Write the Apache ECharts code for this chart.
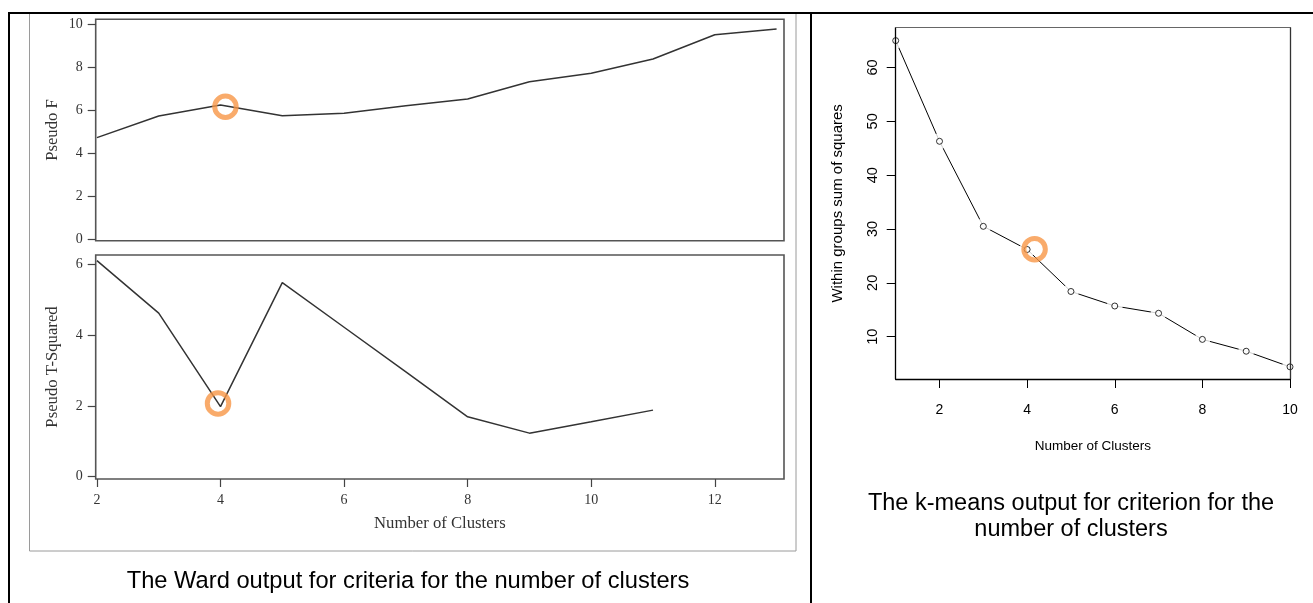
<!DOCTYPE html>
<html>
<head>
<meta charset="utf-8">
<script src="https://cdn.jsdelivr.net/npm/echarts@6/dist/echarts.min.js"></script>
<style>
html,body{margin:0;padding:0;background:#fff;}
#chart{width:1313px;height:603px;}
</style>
</head>
<body>
<div id="chart"></div>
<script>
// ---- Ward (left) data ----
const wardClusters = [2, 3, 4, 5, 6, 7, 8, 9, 10, 11, 12, 13];
const pseudoF = [4.73, 5.74, 6.25, 5.75, 5.87, 6.22, 6.53, 7.34, 7.73, 8.40, 9.53, 9.80];
const t2Clusters = [2, 3, 4, 5, 6, 7, 8, 9, 10, 11];
const pseudoT2 = [6.10, 4.62, 1.98, 5.48, 4.22, 2.96, 1.69, 1.23, 1.55, 1.88];
const wardXTicks = [2, 4, 6, 8, 10, 12];
const pseudoFTicks = [0, 2, 4, 6, 8, 10];
const pseudoT2Ticks = [0, 2, 4, 6];
const highlightF = [4.08, 6.17];
const highlightT2 = [3.96, 2.07];

// ---- k-means (right) data ----
const kmClusters = [1, 2, 3, 4, 5, 6, 7, 8, 9, 10];
const withinSS = [65.0, 46.3, 30.5, 26.2, 18.4, 15.7, 14.35, 9.5, 7.3, 4.4];
const kmXTicks = [2, 4, 6, 8, 10];
const kmYTicks = [10, 20, 30, 40, 50, 60];
const highlightKm = [4.17, 26.25];

const SERIF = 'Liberation Serif';
const SANS = 'Liberation Sans';
const pairs = (xs, ys) => xs.map((x, i) => [x, ys[i]]);

const chart = echarts.init(document.getElementById('chart'), null, {renderer: 'canvas'});

const serifLabel = (vals, margin) => ({
  customValues: vals, margin: margin, fontFamily: SERIF, fontSize: 14, color: '#333'
});
const serifTick = (vals) => ({show: true, customValues: vals, length: 8, lineStyle: {color: '#444', width: 1.2}});
const serifName = {fontFamily: SERIF, fontSize: 16.7, color: '#333'};

const ring = (pt, xi, yi) => ({
  type: 'scatter', xAxisIndex: xi, yAxisIndex: yi, z: 20,
  symbol: 'circle', symbolSize: 21.5,
  itemStyle: {color: 'rgba(0,0,0,0)', borderColor: '#f79646', borderWidth: 5},
  data: [pt], silent: true
});

const option = {
  animation: false,
  backgroundColor: '#fff',
  grid: [
    {left: 95.7, top: 19.3, width: 688.3, height: 221.4, show: true, borderColor: '#555', borderWidth: 1.6, backgroundColor: '#fff'},
    {left: 95.7, top: 255, width: 688.3, height: 224, show: true, borderColor: '#555', borderWidth: 1.6, backgroundColor: '#fff'},
    {left: 895.7, top: 27.7, width: 394.3, height: 351.3}
  ],
  xAxis: [
    {gridIndex: 0, type: 'value', min: 1.98, max: 13.12, show: false},
    {gridIndex: 1, type: 'value', min: 1.98, max: 13.12,
      axisLine: {show: false, onZero: false}, splitLine: {show: false},
      axisTick: serifTick(wardXTicks), axisLabel: serifLabel(wardXTicks, 14),
      name: 'Number of Clusters', nameLocation: 'middle', nameGap: 36, nameMoveOverlap: false, nameTextStyle: serifName},
    {gridIndex: 2, type: 'value', min: 1, max: 10, z: 10,
      axisLine: {show: true, onZero: false, lineStyle: {color: '#000', width: 1.3}}, splitLine: {show: false},
      axisTick: {show: true, customValues: kmXTicks, length: 9, lineStyle: {color: '#000', width: 1}},
      axisLabel: {customValues: kmXTicks, margin: 24.5, fontFamily: SANS, fontSize: 14, color: '#000'},
      name: 'Number of Clusters', nameLocation: 'middle', nameGap: 60, nameMoveOverlap: false, nameTextStyle: {fontFamily: SANS, fontSize: 13.5, color: '#000'}},
    {gridIndex: 2, type: 'value', min: 1, max: 10, position: 'top', z: 10,
      axisLine: {show: true, onZero: false, lineStyle: {color: '#666', width: 1}},
      axisTick: {show: false}, axisLabel: {show: false}, splitLine: {show: false}}
  ],
  yAxis: [
    {gridIndex: 0, type: 'value', min: -0.08, max: 10.25,
      axisLine: {show: false, onZero: false}, splitLine: {show: false},
      axisTick: serifTick(pseudoFTicks), axisLabel: serifLabel(pseudoFTicks, 13),
      name: 'Pseudo F', nameLocation: 'middle', nameGap: 34.5, nameMoveOverlap: false, nameTextStyle: serifName},
    {gridIndex: 1, type: 'value', min: -0.065, max: 6.26,
      axisLine: {show: false, onZero: false}, splitLine: {show: false},
      axisTick: serifTick(pseudoT2Ticks), axisLabel: serifLabel(pseudoT2Ticks, 13),
      name: 'Pseudo T-Squared', nameLocation: 'middle', nameGap: 34.5, nameMoveOverlap: false, nameTextStyle: serifName},
    {gridIndex: 2, type: 'value', min: 2.14, max: 67.4, z: 10,
      axisLine: {show: true, onZero: false, lineStyle: {color: '#000', width: 1.3}}, splitLine: {show: false},
      axisTick: {show: true, customValues: kmYTicks, length: 9, lineStyle: {color: '#000', width: 1}},
      axisLabel: {customValues: kmYTicks, rotate: 90, margin: 15, fontFamily: SANS, fontSize: 14.5, color: '#000'},
      name: 'Within groups sum of squares', nameLocation: 'middle', nameGap: 50, nameMoveOverlap: false, nameTextStyle: {fontFamily: SANS, fontSize: 15, color: '#000'}},
    {gridIndex: 2, type: 'value', min: 2.14, max: 67.4, position: 'right', z: 10,
      axisLine: {show: true, onZero: false, lineStyle: {color: '#333', width: 1.3}},
      axisTick: {show: false}, axisLabel: {show: false}, splitLine: {show: false}}
  ],
  series: [
    {type: 'line', xAxisIndex: 0, yAxisIndex: 0, data: pairs(wardClusters, pseudoF), showSymbol: false,
      lineStyle: {color: '#333', width: 1.5}, z: 3},
    {type: 'line', xAxisIndex: 1, yAxisIndex: 1, data: pairs(t2Clusters, pseudoT2), showSymbol: false,
      lineStyle: {color: '#333', width: 1.5}, z: 3},
    {type: 'line', xAxisIndex: 2, yAxisIndex: 2, data: pairs(kmClusters, withinSS), showSymbol: false,
      lineStyle: {color: '#000', width: 1}, z: 2, clip: false},
    {type: 'scatter', xAxisIndex: 2, yAxisIndex: 2, data: pairs(kmClusters, withinSS), symbol: 'circle', symbolSize: 16,
      itemStyle: {color: '#fff', borderWidth: 0}, z: 3, clip: false, silent: true},
    {type: 'scatter', xAxisIndex: 2, yAxisIndex: 2, data: pairs(kmClusters, withinSS), symbol: 'circle', symbolSize: 6,
      itemStyle: {color: '#fff', borderColor: '#000', borderWidth: 1}, z: 4, clip: false, silent: true},
    ring(highlightF, 0, 0),
    ring(highlightT2, 1, 1),
    ring(highlightKm, 2, 2)
  ],
  graphic: [
    {type: 'rect', z: 0, silent: true, shape: {x: 29.5, y: 13, width: 766.5, height: 538}, style: {fill: null, stroke: '#9a9a9a', lineWidth: 1}},
    {type: 'line', z: 50, silent: true, shape: {x1: 8, y1: 13, x2: 1313, y2: 13}, style: {stroke: '#000', lineWidth: 2}},
    {type: 'line', z: 50, silent: true, shape: {x1: 9, y1: 12, x2: 9, y2: 603}, style: {stroke: '#000', lineWidth: 2}},
    {type: 'line', z: 50, silent: true, shape: {x1: 811, y1: 12, x2: 811, y2: 603}, style: {stroke: '#000', lineWidth: 2}},
    {type: 'text', z: 50, silent: true, style: {x: 408, y: 581, text: 'The Ward output for criteria for the number of clusters',
      fontFamily: SANS, fontSize: 23.7, fill: '#000', align: 'center', verticalAlign: 'middle'}},
    {type: 'text', z: 50, silent: true, style: {x: 1071, y: 517, text: 'The k-means output for criterion for the\nnumber of clusters',
      fontFamily: SANS, fontSize: 23.5, lineHeight: 26, fill: '#000', align: 'center', verticalAlign: 'middle'}}
  ]
};
chart.setOption(option);
</script>
</body>
</html>
